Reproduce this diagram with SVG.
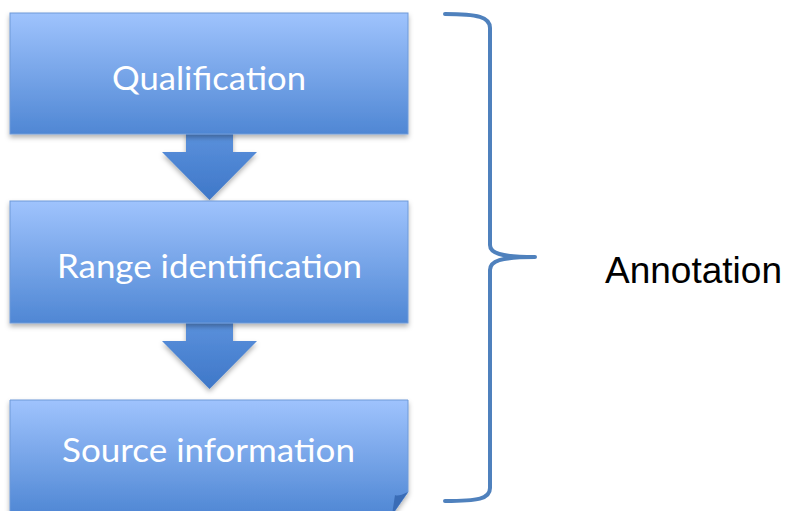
<svg xmlns="http://www.w3.org/2000/svg" width="787" height="511" viewBox="0 0 787 511">
<defs>
<linearGradient id="boxGrad" x1="0" y1="0" x2="0" y2="1">
<stop offset="0" stop-color="#9fc3fd"/>
<stop offset="1" stop-color="#4f87d4"/>
</linearGradient>
<linearGradient id="arrGrad" x1="0" y1="0" x2="0" y2="1">
<stop offset="0" stop-color="#5c92dd"/>
<stop offset="1" stop-color="#3e77c8"/>
</linearGradient>
<filter id="shadow" x="-10%" y="-10%" width="120%" height="130%">
<feDropShadow dx="0" dy="3" stdDeviation="2.5" flood-color="#000" flood-opacity="0.3"/>
</filter>
</defs>
<style>
.box{fill:url(#boxGrad);stroke:#6f9ad8;stroke-width:1;filter:url(#shadow)}
.arrow{fill:url(#arrGrad);filter:url(#shadow)}
.label{font-family:Lato,"Open Sans",sans-serif;font-size:32px;fill:#ffffff;text-anchor:middle}
.brace{fill:none;stroke:#4f81bd;stroke-width:4;stroke-linecap:round;stroke-linejoin:round}
.note{font-family:"Liberation Sans",Arial,sans-serif;font-size:37px;fill:#000000}
</style>
<rect width="787" height="511" fill="#ffffff"/>
<g id="connectors">
<path class="arrow" d="M186,130 H233 V152 H257 L209.5,200 L162,152 H186 Z"/>
<path class="arrow" d="M186,319 H233 V341 H257 L209.5,389 L162,341 H186 Z"/>
</g>
<g id="node-qualification">
<rect class="box" x="10" y="13" width="398" height="121"/>
<text class="label" x="209" y="90" textLength="194" lengthAdjust="spacingAndGlyphs">Qualification</text>
</g>
<g id="node-range">
<rect class="box" x="10" y="201" width="398" height="122"/>
<text class="label" x="209.5" y="278" textLength="305" lengthAdjust="spacingAndGlyphs">Range identification</text>
</g>
<g id="node-source">
<path class="box" d="M10,400 H408 V492 L392,515 H10 Z"/>
<path d="M392,515 L408,492 Q398,497 395,495 Z" fill="#3a6cb6"/>
<text class="label" x="208.5" y="462" textLength="293" lengthAdjust="spacingAndGlyphs">Source information</text>
</g>
<g id="brace">
<path class="brace" d="M445,14 C478,14 490,17 490,28 L490,245 C490,253 500,257 535,257 C500,257 490,261 490,270 L490,488 C490,499 478,501 445,501"/>
</g>
<g id="annotation">
<text class="note" x="605" y="283" textLength="177" lengthAdjust="spacingAndGlyphs">Annotation</text>
</g>
</svg>
